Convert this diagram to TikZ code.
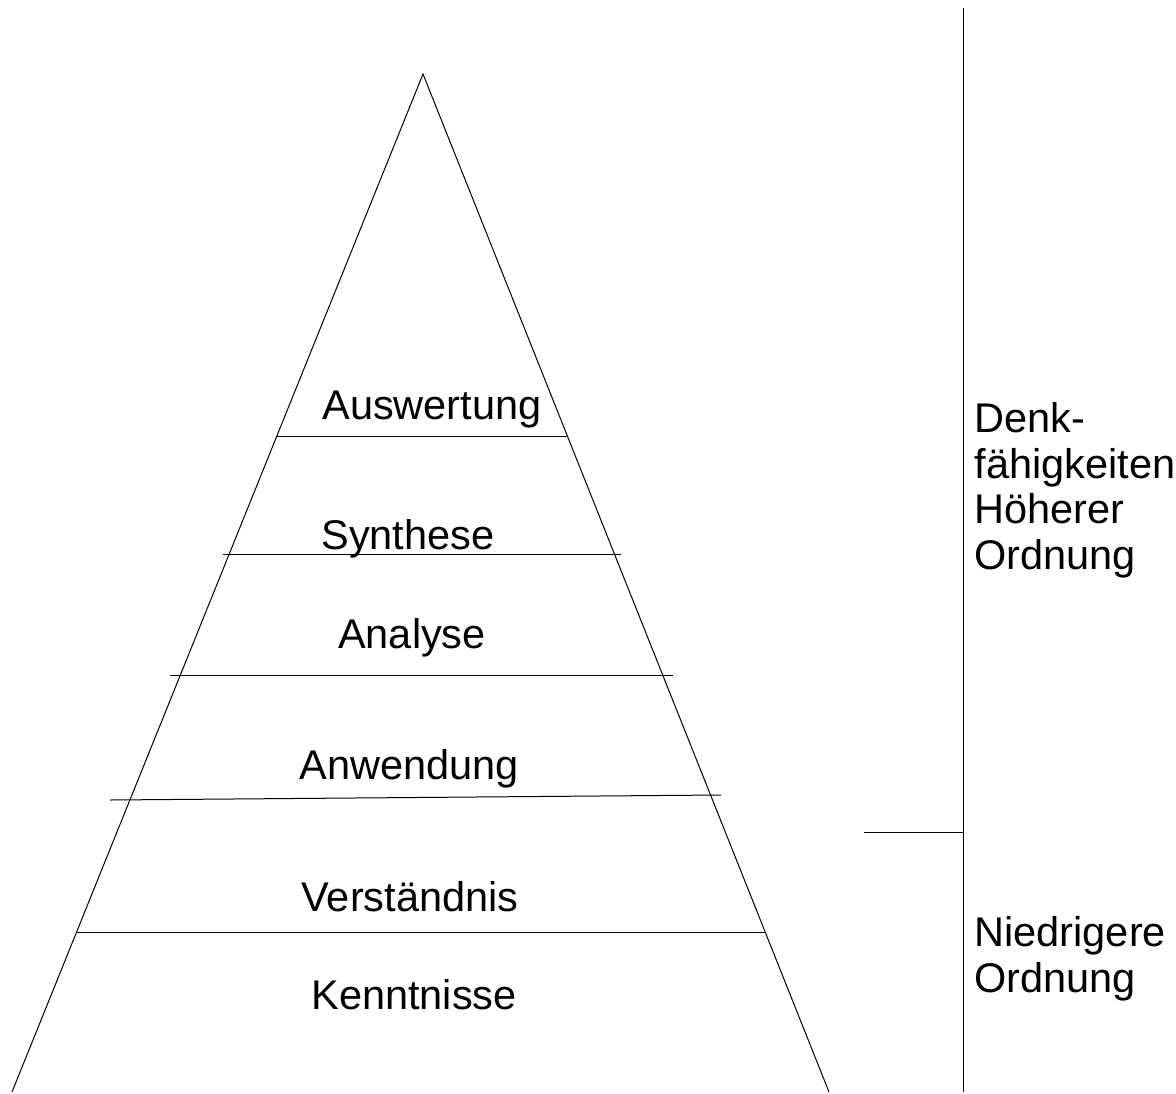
\documentclass[tikz,border=0pt]{standalone}
\usepackage{fontspec}
\setmainfont{Liberation Sans}
\usepackage{tikz}
\usetikzlibrary{positioning}

\tikzset{
  level/.style={anchor=base,inner sep=0pt,font=\fontsize{41.5}{45.5}\selectfont},
  side/.style={anchor=north west,inner sep=0pt,align=left,font=\fontsize{41.5}{45.5}\selectfont}
}

\begin{document}
\begin{tikzpicture}[x=1pt,y=-1pt,line width=1pt]
        \useasboundingbox (0,0) rectangle (1176,1093);
        % pyramid
        \coordinate (top) at (423,74);
        \coordinate (bl) at (12,1092);
        \coordinate (br) at (829,1092);
        \draw (bl) -- (top) -- (br);
        % level separators
        \coordinate (s1l) at (276,436); \coordinate (s1r) at (567,436);
        \coordinate (s2l) at (223,554); \coordinate (s2r) at (621,554);
        \coordinate (s3l) at (170,675); \coordinate (s3r) at (673,675);
        \coordinate (s4l) at (110,800); \coordinate (s4r) at (721,795);
        \coordinate (s5l) at (77,932);  \coordinate (s5r) at (766,932);
        \foreach \i in {1,...,5}
            \draw (s\i l) -- (s\i r);
        % level names
        \node[level] (auswertung) at (432,419) {Auswertung};
        \node[level] (synthese) at (408,549) {Synthese};
        \node[level] (analyse) at (412,648) {Analyse};
        \node[level] (anwendung) at (409,779) {Anwendung};
        \node[level] (verstaendnis) at (410,911) {Verständnis};
        \node[level] (kenntnisse) at (414,1009) {Kenntnisse};
        % right scale
        \coordinate (vtop) at (963,8);
        \coordinate (vbot) at (963,1092);
        \coordinate (vmid) at (963,832);
        \coordinate (tick) at (864,832);
        \draw (vtop) -- (vbot);
        \draw (tick) -- (vmid);
        \node[side] (hoeher) at (974,402) {Denk-\\fähigkeiten\\Höherer\\Ordnung};
        \node[side] (niedrig) at (974,916) {Niedrigere\\Ordnung};
\end{tikzpicture}
\end{document}
